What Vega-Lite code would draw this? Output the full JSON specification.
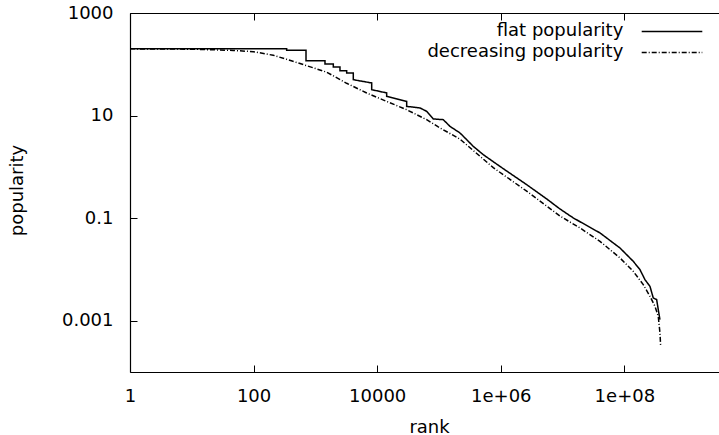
{
  "$schema": "https://vega.github.io/schema/vega-lite/v6.json",
  "width": 589,
  "height": 359,
  "autosize": "none",
  "padding": {"left": 130, "top": 13, "right": 0, "bottom": 63},
  "background": "white",
  "data": {"values": [
    {"series": "decreasing popularity", "rank": 1, "popularity": 200},
    {"series": "decreasing popularity", "rank": 10, "popularity": 197},
    {"series": "decreasing popularity", "rank": 46.9, "popularity": 186.6},
    {"series": "decreasing popularity", "rank": 98.9, "popularity": 176},
    {"series": "decreasing popularity", "rank": 208, "popularity": 150},
    {"series": "decreasing popularity", "rank": 343, "popularity": 125},
    {"series": "decreasing popularity", "rank": 723, "popularity": 93.9},
    {"series": "decreasing popularity", "rank": 1523, "popularity": 70.2},
    {"series": "decreasing popularity", "rank": 3210, "popularity": 42.6},
    {"series": "decreasing popularity", "rank": 6761, "popularity": 27.6},
    {"series": "decreasing popularity", "rank": 14240, "popularity": 18.9},
    {"series": "decreasing popularity", "rank": 30010, "popularity": 13.0},
    {"series": "decreasing popularity", "rank": 63240, "popularity": 8.32},
    {"series": "decreasing popularity", "rank": 97430, "popularity": 6.0},
    {"series": "decreasing popularity", "rank": 218800, "popularity": 3.47},
    {"series": "decreasing popularity", "rank": 755900, "popularity": 0.965},
    {"series": "decreasing popularity", "rank": 2624000, "popularity": 0.336},
    {"series": "decreasing popularity", "rank": 9080000, "popularity": 0.110},
    {"series": "decreasing popularity", "rank": 19120000, "popularity": 0.0644},
    {"series": "decreasing popularity", "rank": 40300000, "popularity": 0.0353},
    {"series": "decreasing popularity", "rank": 84900000, "popularity": 0.01676},
    {"series": "decreasing popularity", "rank": 139300000, "popularity": 0.00918},
    {"series": "decreasing popularity", "rank": 202200000, "popularity": 0.00505},
    {"series": "decreasing popularity", "rank": 259600000, "popularity": 0.00299},
    {"series": "decreasing popularity", "rank": 312700000, "popularity": 0.00191},
    {"series": "decreasing popularity", "rank": 353600000, "popularity": 0.00122},
    {"series": "decreasing popularity", "rank": 376700000, "popularity": 0.000578},
    {"series": "decreasing popularity", "rank": 386800000, "popularity": 0.000317},
    {"series": "flat popularity", "rank": 1, "popularity": 200},
    {"series": "flat popularity", "rank": 343, "popularity": 200},
    {"series": "flat popularity", "rank": 343, "popularity": 187},
    {"series": "flat popularity", "rank": 705, "popularity": 187},
    {"series": "flat popularity", "rank": 705, "popularity": 117.5},
    {"series": "flat popularity", "rank": 1430, "popularity": 117.5},
    {"series": "flat popularity", "rank": 1430, "popularity": 101},
    {"series": "flat popularity", "rank": 1950, "popularity": 101},
    {"series": "flat popularity", "rank": 1950, "popularity": 88.5},
    {"series": "flat popularity", "rank": 2500, "popularity": 88.5},
    {"series": "flat popularity", "rank": 2500, "popularity": 75},
    {"series": "flat popularity", "rank": 3210, "popularity": 75},
    {"series": "flat popularity", "rank": 3210, "popularity": 67.7},
    {"series": "flat popularity", "rank": 4105, "popularity": 67.7},
    {"series": "flat popularity", "rank": 4105, "popularity": 50.1},
    {"series": "flat popularity", "rank": 8150, "popularity": 43.2},
    {"series": "flat popularity", "rank": 8150, "popularity": 32},
    {"series": "flat popularity", "rank": 14240, "popularity": 27.6},
    {"series": "flat popularity", "rank": 14240, "popularity": 23.7},
    {"series": "flat popularity", "rank": 30010, "popularity": 18.9},
    {"series": "flat popularity", "rank": 30010, "popularity": 15.1},
    {"series": "flat popularity", "rank": 49270, "popularity": 14.1},
    {"series": "flat popularity", "rank": 63240, "popularity": 12.1},
    {"series": "flat popularity", "rank": 80880, "popularity": 8.59},
    {"series": "flat popularity", "rank": 117400, "popularity": 8.32},
    {"series": "flat popularity", "rank": 150700, "popularity": 6.16},
    {"series": "flat popularity", "rank": 218800, "popularity": 4.58},
    {"series": "flat popularity", "rank": 280700, "popularity": 3.39},
    {"series": "flat popularity", "rank": 359000, "popularity": 2.51},
    {"series": "flat popularity", "rank": 521000, "popularity": 1.73},
    {"series": "flat popularity", "rank": 970800, "popularity": 1.02},
    {"series": "flat popularity", "rank": 2624000, "popularity": 0.45},
    {"series": "flat popularity", "rank": 5530000, "popularity": 0.237},
    {"series": "flat popularity", "rank": 9080000, "popularity": 0.151},
    {"series": "flat popularity", "rank": 14890000, "popularity": 0.101},
    {"series": "flat popularity", "rank": 40300000, "popularity": 0.0515},
    {"series": "flat popularity", "rank": 84900000, "popularity": 0.0262},
    {"series": "flat popularity", "rank": 139300000, "popularity": 0.01439},
    {"series": "flat popularity", "rank": 178800000, "popularity": 0.00991},
    {"series": "flat popularity", "rank": 215400000, "popularity": 0.00633},
    {"series": "flat popularity", "rank": 259600000, "popularity": 0.00468},
    {"series": "flat popularity", "rank": 293500000, "popularity": 0.00278},
    {"series": "flat popularity", "rank": 333200000, "popularity": 0.00258},
    {"series": "flat popularity", "rank": 353600000, "popularity": 0.001646},
    {"series": "flat popularity", "rank": 376700000, "popularity": 0.00105}
  ]},
  "config": {
    "view": {"stroke": null},
    "font": "DejaVu Sans",
    "axis": {
      "grid": false,
      "domainColor": "black",
      "domainWidth": 1.2,
      "tickColor": "black",
      "tickWidth": 1,
      "tickSize": -7,
      "labelColor": "black",
      "labelFont": "DejaVu Sans",
      "labelFontSize": 18,
      "titleColor": "black",
      "titleFont": "DejaVu Sans",
      "titleFontSize": 18,
      "titleFontWeight": "normal"
    }
  },
  "layer": [
    {
      "mark": {"type": "line", "color": "black", "strokeWidth": 1.5},
      "encoding": {
        "x": {
          "field": "rank", "type": "quantitative",
          "scale": {"type": "log", "domain": [1, 3.4e9], "nice": false},
          "axis": {
            "orient": "bottom",
            "values": [1, 100, 10000, 1000000, 100000000],
            "labelExpr": "datum.value >= 1e6 ? '1e+0' + format(log(datum.value)/LN10, '.0f') : format(datum.value, 'd')",
            "labelPadding": 22,
            "labelFlush": false,
            "labelOverlap": false,
            "title": "rank",
            "titleX": 299,
            "titleY": 60,
            "titleBaseline": "alphabetic",
            "titleAlign": "center"
          }
        },
        "y": {
          "field": "popularity", "type": "quantitative",
          "scale": {"type": "log", "domain": [0.0001, 1000], "nice": false},
          "axis": {
            "orient": "left",
            "values": [1000, 10, 0.1, 0.001],
            "format": "~g",
            "labelPadding": 24,
            "labelFlush": false,
            "labelOverlap": false,
            "title": "popularity",
            "titleX": -108,
            "titleY": 177,
            "titleAngle": -90,
            "titleAlign": "center",
            "titleBaseline": "alphabetic"
          }
        },
        "strokeDash": {
          "field": "series", "type": "nominal",
          "scale": {"domain": ["flat popularity", "decreasing popularity"], "range": [[1, 0], [5, 2, 1, 2]]},
          "legend": {
            "title": null,
            "orient": "none",
            "legendX": 533,
            "legendY": 9.4,
            "padding": 0,
            "symbolType": "M-30.3,0L30.3,0",
            "symbolSize": 4,
            "symbolStrokeWidth": 1.5,
            "symbolStrokeColor": "black",
            "symbolOpacity": 1,
            "rowPadding": 3,
            "labelAlign": "right",
            "labelOffset": -57.7,
            "labelFont": "DejaVu Sans",
            "labelFontSize": 18,
            "labelColor": "black",
            "labelLimit": 0
          }
        },
        "order": {"value": null}
      }
    },
    {
      "mark": {"type": "line", "opacity": 0},
      "encoding": {
        "x": {
          "field": "rank", "type": "quantitative",
          "scale": {"type": "log", "domain": [1, 3.4e9], "nice": false},
          "axis": {
            "orient": "top",
            "values": [1, 100, 10000, 1000000, 100000000],
            "labels": false,
            "title": null
          }
        },
        "y": {"field": "popularity", "type": "quantitative"},
        "detail": {"field": "series"},
        "order": {"value": null}
      }
    }
  ],
  "resolve": {"axis": {"x": "independent"}}
}
